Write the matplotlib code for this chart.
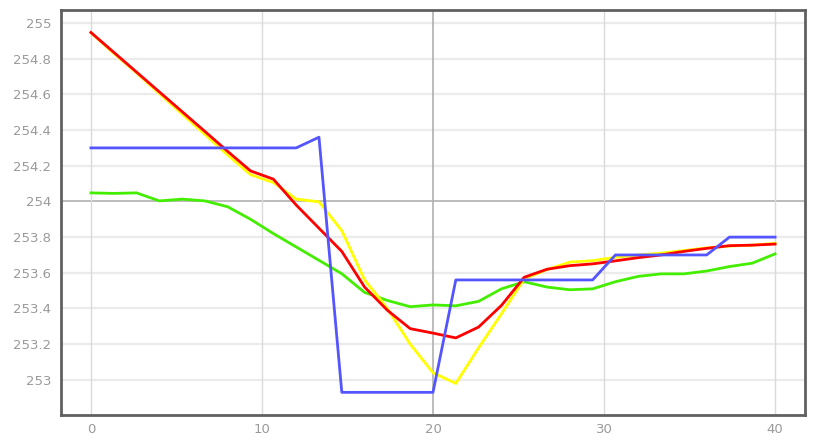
import matplotlib
matplotlib.use("Agg")
import matplotlib.pyplot as plt
import numpy as np

x = [k * 4 / 3 for k in range(31)]

green = [254.048, 254.045, 254.048, 254.003, 254.013, 254.003, 253.97, 253.90, 253.82,
         253.745, 253.67, 253.595, 253.49, 253.445, 253.41, 253.42, 253.415, 253.44,
         253.51, 253.55, 253.52, 253.505, 253.51, 253.55, 253.58, 253.594, 253.594,
         253.61, 253.635, 253.654, 253.706]
yellow = [254.945, 254.83, 254.72, 254.605, 254.49, 254.375, 254.26, 254.15, 254.106,
          254.013, 253.998, 253.836, 253.56, 253.40, 253.20, 253.04, 252.98, 253.18,
          253.37, 253.566, 253.618, 253.66, 253.668, 253.687, 253.70, 253.71, 253.725,
          253.74, 253.75, 253.755, 253.765]
red = [254.947, 254.836, 254.725, 254.614, 254.503, 254.392, 254.28, 254.171, 254.125,
       253.98, 253.85, 253.72, 253.52, 253.39, 253.287, 253.262, 253.235, 253.296,
       253.417, 253.575, 253.62, 253.64, 253.65, 253.667, 253.685, 253.70, 253.72,
       253.737, 253.752, 253.755, 253.761]
blue = [254.30] * 10 + [254.36] + [252.93] * 5 + [253.56] * 7 + [253.70] * 5 + [253.80] * 3

xticks = [0, 10, 20, 30, 40]
yticks = [253.0, 253.2, 253.4, 253.6, 253.8, 254.0, 254.2, 254.4, 254.6, 254.8, 255.0]
ytick_labels = ["253", "253.2", "253.4", "253.6", "253.8", "254", "254.2", "254.4", "254.6", "254.8", "255"]

fig = plt.figure(figsize=(8.16, 4.45), dpi=100)
ax = fig.add_axes([61 / 816, 30 / 445, 744 / 816, 405 / 445])

ax.set_xlim(-1.75, 41.75)
ax.set_ylim(252.803, 255.073)

# grid
for yv in yticks:
    if abs(yv - 254.0) < 1e-9:
        ax.axhline(yv, color="#b0b0b0", lw=1.2, zorder=1)
    else:
        ax.axhline(yv, color="#ebebeb", lw=1.6, zorder=1)
for xv in xticks:
    if xv == 20:
        ax.axvline(xv, color="#b0b0b0", lw=1.2, zorder=1)
    else:
        ax.axvline(xv, color="#dadada", lw=1.0, zorder=1)

lw = 2.0
ax.plot(x, green, color="#44ee00", lw=lw, zorder=3)
ax.plot(x, yellow, color="#ffff00", lw=lw, zorder=4)
ax.plot(x, red, color="#ff0000", lw=lw, zorder=5)
ax.plot(x, blue, color="#5555ff", lw=lw, zorder=6)

ax.set_xticks(xticks)
ax.set_xticklabels([str(v) for v in xticks])
ax.set_yticks(yticks)
ax.set_yticklabels(ytick_labels)
ax.tick_params(axis="both", length=0, labelsize=9.5, labelcolor="#9a9a9a", pad=6)
ax.tick_params(axis="y", pad=7)

for s in ax.spines.values():
    s.set_color("#606060")
    s.set_linewidth(2.0)

fig.savefig("out.png", dpi=100)
